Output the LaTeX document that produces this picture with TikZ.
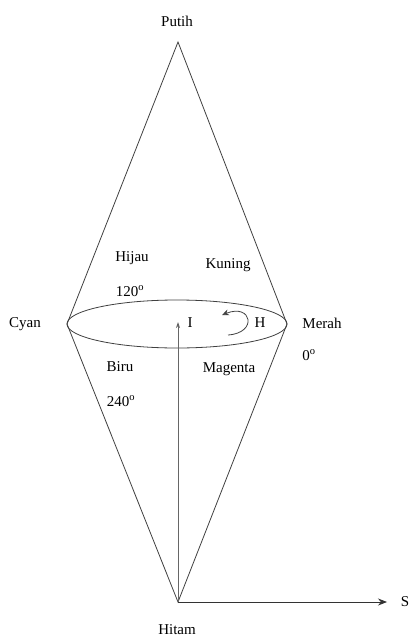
\documentclass[tikz,border=0pt]{standalone}
\usepackage{fontspec}
\setmainfont{Liberation Serif}
\usetikzlibrary{arrows.meta}
\begin{document}
\begin{tikzpicture}[x=1pt,y=-1pt,
  lbl/.style={inner sep=0pt,font=\fontsize{15}{18}\selectfont},
  edge/.style={draw=black!75,line width=0.8pt},
  ax/.style={draw=black!80,line width=0.8pt}]
\useasboundingbox (0,0) rectangle (411,637);
\coordinate (top) at (178,42);
\coordinate (bot) at (178,602);
\coordinate (L) at (67,324);
\coordinate (R) at (287,324);
\coordinate (C) at (178,322);
\coordinate (Send) at (387,602);
\draw[edge] (L) -- (top) -- (R) -- (bot) -- cycle;
\draw[edge] (177,324) ellipse [x radius=110, y radius=24];
\draw[draw=black!60,line width=0.9pt,-{Stealth[length=6pt,width=4pt]}] (bot) -- (C);
\draw[ax,-{Stealth[length=9pt,width=7pt]}] (bot) -- (Send);
\coordinate (h1) at (228,335);
\coordinate (h2) at (222,315);
\draw[draw=black!75,line width=0.8pt,-{Stealth[length=7pt,width=6pt]}] (h1) .. controls (258,333) and (252,303) .. (h2);
\node[lbl] (putih) at (177,21) {Putih};
\node[lbl] (hitam) at (177,630) {Hitam};
\node[lbl] (cyan) at (25,324) {Cyan};
\node[lbl] (merah) at (322,323) {Merah};
\node[lbl] (nol) at (309,355) {0\textsuperscript{o}};
\node[lbl] (hijau) at (132,258) {Hijau};
\node[lbl] (d120) at (130,291) {120\textsuperscript{o}};
\node[lbl] (kuning) at (228,265) {Kuning};
\node[lbl] (biru) at (120,367) {Biru};
\node[lbl] (d240) at (121,401) {240\textsuperscript{o}};
\node[lbl] (magenta) at (229,369) {Magenta};
\node[lbl] (I) at (190,323) {I};
\node[lbl] (H) at (260,323) {H};
\node[lbl] (S) at (405,602) {S};
\end{tikzpicture}
\end{document}
